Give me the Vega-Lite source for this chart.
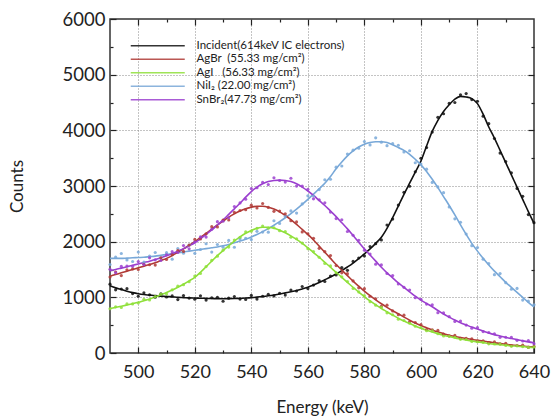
{
"$schema":"https://vega.github.io/schema/vega-lite/v6.json",
"width":424,"height":334,
"autosize":{"type":"none"},
"padding":{"left":110,"top":19,"right":20,"bottom":66},
"config":{"view":{"stroke":"#333","strokeWidth":1.5},"font":"Lato","axis":{"labelColor":"#222","titleColor":"#222","tickColor":"#222","tickWidth":1.2,"titleFontWeight":"normal"}},
"data":{"values":[
{"s":"I","e":490,"c":1237,"f":1210},{"s":"I","e":492,"c":1134,"f":1170},{"s":"I","e":494,"c":1149,"f":1140},{"s":"I","e":496,"c":1155,"f":1110},{"s":"I","e":498,"c":1067,"f":1085},{"s":"I","e":500,"c":1020,"f":1065},{"s":"I","e":502,"c":1082,"f":1050},{"s":"I","e":504,"c":1045,"f":1040},{"s":"I","e":506,"c":1003,"f":1030},{"s":"I","e":508,"c":1062,"f":1022},{"s":"I","e":510,"c":1006,"f":1015},{"s":"I","e":512,"c":1026,"f":1008},{"s":"I","e":514,"c":960,"f":1000},{"s":"I","e":516,"c":1031,"f":995},{"s":"I","e":518,"c":986,"f":990},{"s":"I","e":520,"c":965,"f":987},{"s":"I","e":522,"c":1029,"f":984},{"s":"I","e":524,"c":950,"f":981},{"s":"I","e":526,"c":992,"f":978},{"s":"I","e":528,"c":998,"f":976},{"s":"I","e":530,"c":930,"f":975},{"s":"I","e":532,"c":985,"f":976},{"s":"I","e":534,"c":1014,"f":978},{"s":"I","e":536,"c":968,"f":982},{"s":"I","e":538,"c":961,"f":988},{"s":"I","e":540,"c":1035,"f":995},{"s":"I","e":542,"c":968,"f":1004},{"s":"I","e":544,"c":1020,"f":1015},{"s":"I","e":546,"c":1055,"f":1028},{"s":"I","e":548,"c":1025,"f":1043},{"s":"I","e":550,"c":1073,"f":1060},{"s":"I","e":552,"c":1040,"f":1080},{"s":"I","e":554,"c":1132,"f":1100},{"s":"I","e":556,"c":1113,"f":1122},{"s":"I","e":558,"c":1195,"f":1150},{"s":"I","e":560,"c":1157,"f":1180},{"s":"I","e":562,"c":1220,"f":1220},{"s":"I","e":564,"c":1301,"f":1265},{"s":"I","e":566,"c":1284,"f":1315},{"s":"I","e":568,"c":1383,"f":1365},{"s":"I","e":570,"c":1402,"f":1420},{"s":"I","e":572,"c":1534,"f":1480},{"s":"I","e":574,"c":1485,"f":1545},{"s":"I","e":576,"c":1645,"f":1615},{"s":"I","e":578,"c":1707,"f":1695},{"s":"I","e":580,"c":1744,"f":1780},{"s":"I","e":582,"c":1912,"f":1870},{"s":"I","e":584,"c":1964,"f":1970},{"s":"I","e":586,"c":2032,"f":2080},{"s":"I","e":588,"c":2300,"f":2240},{"s":"I","e":590,"c":2406,"f":2430},{"s":"I","e":592,"c":2658,"f":2640},{"s":"I","e":594,"c":2886,"f":2850},{"s":"I","e":596,"c":2996,"f":3050},{"s":"I","e":598,"c":3256,"f":3250},{"s":"I","e":600,"c":3498,"f":3450},{"s":"I","e":602,"c":3690,"f":3720},{"s":"I","e":604,"c":3968,"f":3980},{"s":"I","e":606,"c":4234,"f":4180},{"s":"I","e":608,"c":4298,"f":4340},{"s":"I","e":610,"c":4484,"f":4460},{"s":"I","e":612,"c":4500,"f":4560},{"s":"I","e":614,"c":4640,"f":4610},{"s":"I","e":616,"c":4660,"f":4600},{"s":"I","e":618,"c":4552,"f":4570},{"s":"I","e":620,"c":4522,"f":4480},{"s":"I","e":622,"c":4254,"f":4290},{"s":"I","e":624,"c":4120,"f":4060},{"s":"I","e":626,"c":3854,"f":3860},{"s":"I","e":628,"c":3592,"f":3640},{"s":"I","e":630,"c":3438,"f":3420},{"s":"I","e":632,"c":3236,"f":3200},{"s":"I","e":634,"c":2956,"f":2980},{"s":"I","e":636,"c":2814,"f":2760},{"s":"I","e":638,"c":2486,"f":2540},{"s":"I","e":640,"c":2342,"f":2330},
{"s":"NiI2","e":490,"c":1590,"f":1700},{"s":"NiI2","e":492,"c":1722,"f":1700},{"s":"NiI2","e":494,"c":1788,"f":1700},{"s":"NiI2","e":496,"c":1672,"f":1705},{"s":"NiI2","e":498,"c":1644,"f":1710},{"s":"NiI2","e":500,"c":1814,"f":1715},{"s":"NiI2","e":502,"c":1632,"f":1720},{"s":"NiI2","e":504,"c":1741,"f":1730},{"s":"NiI2","e":506,"c":1806,"f":1740},{"s":"NiI2","e":508,"c":1711,"f":1755},{"s":"NiI2","e":510,"c":1803,"f":1770},{"s":"NiI2","e":512,"c":1686,"f":1785},{"s":"NiI2","e":514,"c":1877,"f":1800},{"s":"NiI2","e":516,"c":1793,"f":1815},{"s":"NiI2","e":518,"c":1940,"f":1830},{"s":"NiI2","e":520,"c":1790,"f":1845},{"s":"NiI2","e":522,"c":1860,"f":1860},{"s":"NiI2","e":524,"c":1963,"f":1875},{"s":"NiI2","e":526,"c":1813,"f":1890},{"s":"NiI2","e":528,"c":1949,"f":1905},{"s":"NiI2","e":530,"c":1901,"f":1925},{"s":"NiI2","e":532,"c":2022,"f":1950},{"s":"NiI2","e":534,"c":1900,"f":1980},{"s":"NiI2","e":536,"c":2050,"f":2010},{"s":"NiI2","e":538,"c":2061,"f":2045},{"s":"NiI2","e":540,"c":2037,"f":2085},{"s":"NiI2","e":542,"c":2186,"f":2130},{"s":"NiI2","e":544,"c":2172,"f":2180},{"s":"NiI2","e":546,"c":2171,"f":2235},{"s":"NiI2","e":548,"c":2375,"f":2295},{"s":"NiI2","e":550,"c":2328,"f":2360},{"s":"NiI2","e":552,"c":2454,"f":2430},{"s":"NiI2","e":554,"c":2553,"f":2505},{"s":"NiI2","e":556,"c":2513,"f":2585},{"s":"NiI2","e":558,"c":2678,"f":2670},{"s":"NiI2","e":560,"c":2824,"f":2760},{"s":"NiI2","e":562,"c":2820,"f":2855},{"s":"NiI2","e":564,"c":2936,"f":2950},{"s":"NiI2","e":566,"c":3113,"f":3050},{"s":"NiI2","e":568,"c":3121,"f":3170},{"s":"NiI2","e":570,"c":3338,"f":3310},{"s":"NiI2","e":572,"c":3360,"f":3430},{"s":"NiI2","e":574,"c":3575,"f":3540},{"s":"NiI2","e":576,"c":3644,"f":3630},{"s":"NiI2","e":578,"c":3679,"f":3700},{"s":"NiI2","e":580,"c":3799,"f":3750},{"s":"NiI2","e":582,"c":3738,"f":3780},{"s":"NiI2","e":584,"c":3865,"f":3795},{"s":"NiI2","e":586,"c":3788,"f":3795},{"s":"NiI2","e":588,"c":3724,"f":3780},{"s":"NiI2","e":590,"c":3761,"f":3740},{"s":"NiI2","e":592,"c":3732,"f":3690},{"s":"NiI2","e":594,"c":3612,"f":3640},{"s":"NiI2","e":596,"c":3633,"f":3570},{"s":"NiI2","e":598,"c":3417,"f":3480},{"s":"NiI2","e":600,"c":3394,"f":3380},{"s":"NiI2","e":602,"c":3302,"f":3260},{"s":"NiI2","e":604,"c":3064,"f":3120},{"s":"NiI2","e":606,"c":2984,"f":2970},{"s":"NiI2","e":608,"c":2880,"f":2810},{"s":"NiI2","e":610,"c":2622,"f":2650},{"s":"NiI2","e":612,"c":2410,"f":2480},{"s":"NiI2","e":614,"c":2349,"f":2300},{"s":"NiI2","e":616,"c":2137,"f":2130},{"s":"NiI2","e":618,"c":1928,"f":1970},{"s":"NiI2","e":620,"c":1893,"f":1830},{"s":"NiI2","e":622,"c":1686,"f":1700},{"s":"NiI2","e":624,"c":1608,"f":1580},{"s":"NiI2","e":626,"c":1407,"f":1470},{"s":"NiI2","e":628,"c":1426,"f":1370},{"s":"NiI2","e":630,"c":1263,"f":1270},{"s":"NiI2","e":632,"c":1145,"f":1180},{"s":"NiI2","e":634,"c":1160,"f":1090},{"s":"NiI2","e":636,"c":951,"f":1000},{"s":"NiI2","e":638,"c":931,"f":910},{"s":"NiI2","e":640,"c":865,"f":830},
{"s":"AgBr","e":490,"c":1365,"f":1380},{"s":"AgBr","e":492,"c":1455,"f":1410},{"s":"AgBr","e":494,"c":1390,"f":1440},{"s":"AgBr","e":496,"c":1495,"f":1470},{"s":"AgBr","e":498,"c":1510,"f":1500},{"s":"AgBr","e":500,"c":1500,"f":1530},{"s":"AgBr","e":502,"c":1595,"f":1560},{"s":"AgBr","e":504,"c":1585,"f":1590},{"s":"AgBr","e":506,"c":1580,"f":1620},{"s":"AgBr","e":508,"c":1710,"f":1660},{"s":"AgBr","e":510,"c":1680,"f":1700},{"s":"AgBr","e":512,"c":1765,"f":1750},{"s":"AgBr","e":514,"c":1840,"f":1810},{"s":"AgBr","e":516,"c":1825,"f":1870},{"s":"AgBr","e":518,"c":1940,"f":1935},{"s":"AgBr","e":520,"c":2040,"f":2000},{"s":"AgBr","e":522,"c":2050,"f":2075},{"s":"AgBr","e":524,"c":2140,"f":2150},{"s":"AgBr","e":526,"c":2270,"f":2225},{"s":"AgBr","e":528,"c":2265,"f":2300},{"s":"AgBr","e":530,"c":2390,"f":2370},{"s":"AgBr","e":532,"c":2390,"f":2440},{"s":"AgBr","e":534,"c":2525,"f":2500},{"s":"AgBr","e":536,"c":2560,"f":2550},{"s":"AgBr","e":538,"c":2575,"f":2590},{"s":"AgBr","e":540,"c":2655,"f":2620},{"s":"AgBr","e":542,"c":2605,"f":2635},{"s":"AgBr","e":544,"c":2685,"f":2635},{"s":"AgBr","e":546,"c":2615,"f":2620},{"s":"AgBr","e":548,"c":2545,"f":2585},{"s":"AgBr","e":550,"c":2550,"f":2535},{"s":"AgBr","e":552,"c":2500,"f":2470},{"s":"AgBr","e":554,"c":2375,"f":2395},{"s":"AgBr","e":556,"c":2355,"f":2310},{"s":"AgBr","e":558,"c":2175,"f":2220},{"s":"AgBr","e":560,"c":2140,"f":2130},{"s":"AgBr","e":562,"c":2060,"f":2030},{"s":"AgBr","e":564,"c":1880,"f":1920},{"s":"AgBr","e":566,"c":1820,"f":1810},{"s":"AgBr","e":568,"c":1750,"f":1700},{"s":"AgBr","e":570,"c":1570,"f":1590},{"s":"AgBr","e":572,"c":1440,"f":1490},{"s":"AgBr","e":574,"c":1425,"f":1390},{"s":"AgBr","e":576,"c":1295,"f":1290},{"s":"AgBr","e":578,"c":1170,"f":1200},{"s":"AgBr","e":580,"c":1155,"f":1110},{"s":"AgBr","e":582,"c":1020,"f":1030},{"s":"AgBr","e":584,"c":975,"f":955},{"s":"AgBr","e":586,"c":840,"f":885},{"s":"AgBr","e":588,"c":860,"f":820},{"s":"AgBr","e":590,"c":756,"f":760},{"s":"AgBr","e":592,"c":688,"f":705},{"s":"AgBr","e":594,"c":680,"f":645},{"s":"AgBr","e":596,"c":566,"f":590},{"s":"AgBr","e":598,"c":548,"f":538},{"s":"AgBr","e":600,"c":510,"f":492},{"s":"AgBr","e":602,"c":420,"f":455},{"s":"AgBr","e":604,"c":417,"f":410},{"s":"AgBr","e":606,"c":406,"f":378},{"s":"AgBr","e":608,"c":338,"f":348},{"s":"AgBr","e":610,"c":308,"f":320},{"s":"AgBr","e":612,"c":316,"f":298},{"s":"AgBr","e":614,"c":262,"f":278},{"s":"AgBr","e":616,"c":262,"f":260},{"s":"AgBr","e":618,"c":255,"f":243},{"s":"AgBr","e":620,"c":220,"f":228},{"s":"AgBr","e":622,"c":219,"f":213},{"s":"AgBr","e":624,"c":182,"f":200},{"s":"AgBr","e":626,"c":199,"f":185},{"s":"AgBr","e":628,"c":166,"f":170},{"s":"AgBr","e":630,"c":175,"f":155},{"s":"AgBr","e":632,"c":135,"f":145},{"s":"AgBr","e":634,"c":135,"f":135},{"s":"AgBr","e":636,"c":141,"f":125},{"s":"AgBr","e":638,"c":101,"f":115},{"s":"AgBr","e":640,"c":118,"f":110},
{"s":"SnBr2","e":490,"c":1504,"f":1480},{"s":"SnBr2","e":492,"c":1440,"f":1500},{"s":"SnBr2","e":494,"c":1555,"f":1525},{"s":"SnBr2","e":496,"c":1562,"f":1550},{"s":"SnBr2","e":498,"c":1557,"f":1575},{"s":"SnBr2","e":500,"c":1642,"f":1600},{"s":"SnBr2","e":502,"c":1589,"f":1625},{"s":"SnBr2","e":504,"c":1710,"f":1650},{"s":"SnBr2","e":506,"c":1674,"f":1680},{"s":"SnBr2","e":508,"c":1662,"f":1710},{"s":"SnBr2","e":510,"c":1763,"f":1745},{"s":"SnBr2","e":512,"c":1821,"f":1785},{"s":"SnBr2","e":514,"c":1806,"f":1830},{"s":"SnBr2","e":516,"c":1929,"f":1875},{"s":"SnBr2","e":518,"c":1871,"f":1925},{"s":"SnBr2","e":520,"c":1992,"f":1980},{"s":"SnBr2","e":522,"c":2086,"f":2050},{"s":"SnBr2","e":524,"c":2082,"f":2130},{"s":"SnBr2","e":526,"c":2222,"f":2210},{"s":"SnBr2","e":528,"c":2360,"f":2300},{"s":"SnBr2","e":530,"c":2366,"f":2390},{"s":"SnBr2","e":532,"c":2430,"f":2490},{"s":"SnBr2","e":534,"c":2632,"f":2590},{"s":"SnBr2","e":536,"c":2696,"f":2690},{"s":"SnBr2","e":538,"c":2764,"f":2800},{"s":"SnBr2","e":540,"c":2954,"f":2900},{"s":"SnBr2","e":542,"c":2968,"f":2980},{"s":"SnBr2","e":544,"c":3064,"f":3040},{"s":"SnBr2","e":546,"c":3026,"f":3080},{"s":"SnBr2","e":548,"c":3148,"f":3100},{"s":"SnBr2","e":550,"c":3099,"f":3105},{"s":"SnBr2","e":552,"c":3070,"f":3100},{"s":"SnBr2","e":554,"c":3140,"f":3080},{"s":"SnBr2","e":556,"c":2998,"f":3040},{"s":"SnBr2","e":558,"c":2998,"f":2980},{"s":"SnBr2","e":560,"c":2940,"f":2910},{"s":"SnBr2","e":562,"c":2770,"f":2830},{"s":"SnBr2","e":564,"c":2752,"f":2740},{"s":"SnBr2","e":566,"c":2698,"f":2650},{"s":"SnBr2","e":568,"c":2532,"f":2550},{"s":"SnBr2","e":570,"c":2414,"f":2450},{"s":"SnBr2","e":572,"c":2394,"f":2340},{"s":"SnBr2","e":574,"c":2182,"f":2230},{"s":"SnBr2","e":576,"c":2116,"f":2110},{"s":"SnBr2","e":578,"c":2026,"f":1990},{"s":"SnBr2","e":580,"c":1846,"f":1870},{"s":"SnBr2","e":582,"c":1778,"f":1760},{"s":"SnBr2","e":584,"c":1596,"f":1650},{"s":"SnBr2","e":586,"c":1582,"f":1540},{"s":"SnBr2","e":588,"c":1428,"f":1440},{"s":"SnBr2","e":590,"c":1390,"f":1350},{"s":"SnBr2","e":592,"c":1240,"f":1260},{"s":"SnBr2","e":594,"c":1180,"f":1180},{"s":"SnBr2","e":596,"c":1132,"f":1100},{"s":"SnBr2","e":598,"c":992,"f":1020},{"s":"SnBr2","e":600,"c":966,"f":950},{"s":"SnBr2","e":602,"c":878,"f":890},{"s":"SnBr2","e":604,"c":866,"f":830},{"s":"SnBr2","e":606,"c":725,"f":765},{"s":"SnBr2","e":608,"c":720,"f":700},{"s":"SnBr2","e":610,"c":653,"f":645},{"s":"SnBr2","e":612,"c":568,"f":592},{"s":"SnBr2","e":614,"c":573,"f":545},{"s":"SnBr2","e":616,"c":502,"f":505},{"s":"SnBr2","e":618,"c":445,"f":465},{"s":"SnBr2","e":620,"c":455,"f":430},{"s":"SnBr2","e":622,"c":385,"f":395},{"s":"SnBr2","e":624,"c":368,"f":360},{"s":"SnBr2","e":626,"c":345,"f":330},{"s":"SnBr2","e":628,"c":282,"f":305},{"s":"SnBr2","e":630,"c":283,"f":280},{"s":"SnBr2","e":632,"c":280,"f":260},{"s":"SnBr2","e":634,"c":228,"f":240},{"s":"SnBr2","e":636,"c":215,"f":220},{"s":"SnBr2","e":638,"c":222,"f":200},{"s":"SnBr2","e":640,"c":168,"f":185},
{"s":"AgI","e":490,"c":795,"f":800},{"s":"AgI","e":492,"c":830,"f":820},{"s":"AgI","e":494,"c":818,"f":840},{"s":"AgI","e":496,"c":882,"f":862},{"s":"AgI","e":498,"c":882,"f":885},{"s":"AgI","e":500,"c":898,"f":910},{"s":"AgI","e":502,"c":965,"f":940},{"s":"AgI","e":504,"c":952,"f":970},{"s":"AgI","e":506,"c":1012,"f":1005},{"s":"AgI","e":508,"c":1058,"f":1045},{"s":"AgI","e":510,"c":1060,"f":1085},{"s":"AgI","e":512,"c":1135,"f":1130},{"s":"AgI","e":514,"c":1200,"f":1180},{"s":"AgI","e":516,"c":1228,"f":1235},{"s":"AgI","e":518,"c":1280,"f":1295},{"s":"AgI","e":520,"c":1382,"f":1360},{"s":"AgI","e":522,"c":1430,"f":1450},{"s":"AgI","e":524,"c":1552,"f":1550},{"s":"AgI","e":526,"c":1665,"f":1650},{"s":"AgI","e":528,"c":1740,"f":1750},{"s":"AgI","e":530,"c":1848,"f":1840},{"s":"AgI","e":532,"c":1902,"f":1925},{"s":"AgI","e":534,"c":2028,"f":2010},{"s":"AgI","e":536,"c":2080,"f":2085},{"s":"AgI","e":538,"c":2175,"f":2150},{"s":"AgI","e":540,"c":2188,"f":2200},{"s":"AgI","e":542,"c":2240,"f":2240},{"s":"AgI","e":544,"c":2280,"f":2260},{"s":"AgI","e":546,"c":2242,"f":2260},{"s":"AgI","e":548,"c":2250,"f":2240},{"s":"AgI","e":550,"c":2198,"f":2205},{"s":"AgI","e":552,"c":2182,"f":2160},{"s":"AgI","e":554,"c":2080,"f":2105},{"s":"AgI","e":556,"c":2052,"f":2040},{"s":"AgI","e":558,"c":1975,"f":1970},{"s":"AgI","e":560,"c":1875,"f":1890},{"s":"AgI","e":562,"c":1822,"f":1805},{"s":"AgI","e":564,"c":1718,"f":1720},{"s":"AgI","e":566,"c":1610,"f":1630},{"s":"AgI","e":568,"c":1565,"f":1540},{"s":"AgI","e":570,"c":1440,"f":1450},{"s":"AgI","e":572,"c":1368,"f":1360},{"s":"AgI","e":574,"c":1285,"f":1270},{"s":"AgI","e":576,"c":1158,"f":1180},{"s":"AgI","e":578,"c":1098,"f":1095},{"s":"AgI","e":580,"c":1030,"f":1010},{"s":"AgI","e":582,"c":922,"f":935},{"s":"AgI","e":584,"c":860,"f":865},{"s":"AgI","e":586,"c":822,"f":800},{"s":"AgI","e":588,"c":722,"f":740},{"s":"AgI","e":590,"c":687,"f":680},{"s":"AgI","e":592,"c":607,"f":625},{"s":"AgI","e":594,"c":584,"f":575},{"s":"AgI","e":596,"c":534,"f":530},{"s":"AgI","e":598,"c":480,"f":485},{"s":"AgI","e":600,"c":458,"f":445},{"s":"AgI","e":602,"c":399,"f":410},{"s":"AgI","e":604,"c":396,"f":378},{"s":"AgI","e":606,"c":346,"f":348},{"s":"AgI","e":608,"c":306,"f":320},{"s":"AgI","e":610,"c":300,"f":295},{"s":"AgI","e":612,"c":283,"f":272},{"s":"AgI","e":614,"c":245,"f":252},{"s":"AgI","e":616,"c":242,"f":233},{"s":"AgI","e":618,"c":206,"f":215},{"s":"AgI","e":620,"c":202,"f":200},{"s":"AgI","e":622,"c":191,"f":185},{"s":"AgI","e":624,"c":164,"f":172},{"s":"AgI","e":626,"c":162,"f":160},{"s":"AgI","e":628,"c":160,"f":150},{"s":"AgI","e":630,"c":136,"f":140},{"s":"AgI","e":632,"c":120,"f":130},{"s":"AgI","e":634,"c":129,"f":122},{"s":"AgI","e":636,"c":115,"f":114},{"s":"AgI","e":638,"c":100,"f":106},{"s":"AgI","e":640,"c":109,"f":100}
]},
"layer":[
{"mark":{"type":"line","strokeWidth":1.6,"interpolate":"monotone"},
 "encoding":{
  "x":{"field":"e","type":"quantitative","scale":{"domain":[490,640],"nice":false,"zero":false},"axis":{"values":[500,520,540,560,580,600,620,640],"tickSize":-6,"grid":true,"gridDash":[1,2],"gridColor":"#888","gridOpacity":{"condition":{"test":"datum.value < 640","value":1},"value":0},"domain":false,"labelFontSize":18,"labelPadding":16,"labelFlush":false,"labelOverlap":false,"title":"Energy (keV)","titleFontSize":17,"titlePadding":18}},
  "y":{"field":"f","type":"quantitative","scale":{"domain":[0,6000],"nice":false},"axis":{"values":[0,1000,2000,3000,4000,5000,6000],"format":"d","tickSize":-6,"grid":true,"gridDash":[1,2],"gridColor":"#888","gridOpacity":{"condition":{"test":"datum.value > 0 && datum.value < 6000","value":1},"value":0},"domain":false,"labelFontSize":18.5,"labelPadding":11,"labelOverlap":false,"title":"Counts","titleFontSize":17,"titlePadding":36}},
  "color":{"field":"s","type":"nominal","scale":{"domain":["I","AgBr","AgI","NiI2","SnBr2"],"range":["#111111","#b03a36","#8fe03a","#78a8d8","#9b3fcf"]},"legend":{"orient":"none","legendX":42,"legendY":21,"title":null,"symbolType":"M-6,0H6","symbolSize":81,"symbolStrokeWidth":1.6,"symbolFillColor":"transparent","labelOffset":33,"labelFontSize":11.5,"labelColor":"#222","rowPadding":0.5,"padding":0,
   "labelExpr":"datum.value === 'I' ? 'Incident(614keV IC electrons)' : datum.value === 'AgBr' ? 'AgBr\u00a0\u00a0(55.33 mg/cm²)' : datum.value === 'AgI' ? 'AgI\u00a0\u00a0\u00a0(56.33 mg/cm²)' : datum.value === 'NiI2' ? 'NiI₂ (22.00 mg/cm²)' : 'SnBr₂(47.73 mg/cm²)'"}}}},
{"mark":{"type":"point","filled":true,"size":10,"opacity":0.85},
 "encoding":{
  "x":{"field":"e","type":"quantitative","axis":null},
  "y":{"field":"c","type":"quantitative","axis":null},
  "color":{"field":"s","type":"nominal"}}},
{"mark":{"type":"point","opacity":0},
 "encoding":{
  "x":{"field":"e","type":"quantitative","axis":{"orient":"top","values":[500,520,540,560,580,600,620],"labels":false,"tickSize":-6,"grid":false,"domain":false,"title":null}},
  "y":{"field":"c","type":"quantitative","axis":{"orient":"right","values":[1000,2000,3000,4000,5000],"labels":false,"tickSize":-6,"grid":false,"domain":false,"title":null}}}},
{"mark":{"type":"point","opacity":0},
 "encoding":{
  "x":{"field":"e","type":"quantitative","axis":{"orient":"bottom","values":[510,530,550,570,590,610,630],"labels":false,"tickSize":-3,"grid":false,"domain":false,"title":null}},
  "y":{"field":"c","type":"quantitative","axis":{"orient":"left","values":[500,1500,2500,3500,4500,5500],"labels":false,"tickSize":-3,"grid":false,"domain":false,"title":null}}}},
{"mark":{"type":"point","opacity":0},
 "encoding":{
  "x":{"field":"e","type":"quantitative","axis":{"orient":"top","values":[510,530,550,570,590,610,630],"labels":false,"tickSize":-3,"grid":false,"domain":false,"title":null}},
  "y":{"field":"c","type":"quantitative","axis":{"orient":"right","values":[500,1500,2500,3500,4500,5500],"labels":false,"tickSize":-3,"grid":false,"domain":false,"title":null}}}}
],
"resolve":{"axis":{"x":"independent","y":"independent"}}
}
